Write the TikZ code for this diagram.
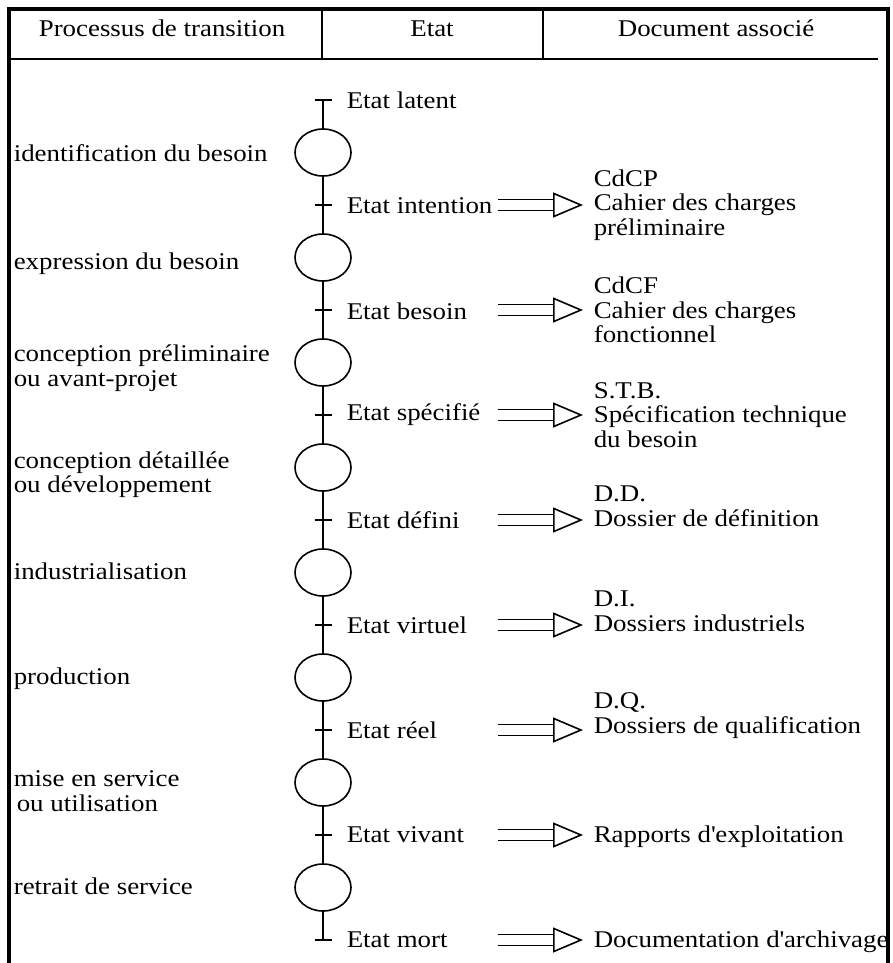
\documentclass[tikz,border=0pt]{standalone}
\usepackage{fontspec}
\setmainfont{Liberation Serif}[FakeStretch=1.12]
\usepackage{tikz}
\usetikzlibrary{shapes,arrows.meta,calc}

\tikzset{
    etape/.style={draw, ellipse, minimum width=28pt, minimum height=23.5pt, inner sep=0pt},
    proc/.style={anchor=west, inner sep=0pt, align=left},
    etat/.style={anchor=west, inner sep=0pt},
    doc/.style={anchor=west, inner sep=0pt, align=left},
    renvoi/.style={double, double distance=4.7pt, shorten >=5pt,
        -{Triangle[open, length=15pt, width=12.5pt, line width=0.8pt]}}
}

\begin{document}
\begin{tikzpicture}[x=0.5pt, y=-0.5pt, line width=0.8pt, font=\fontsize{12}{12.25}\selectfont]
    \useasboundingbox (0,0) rectangle (893,963);

    % Frame
    \draw[line width=2pt] (9,963) -- (9,9) -- (888,9) -- (888,963);
    \draw (9,59) -- (878,59);
    \draw[line width=0.6pt] (322,9) -- (322,59);
    \draw[line width=0.6pt] (543,9) -- (543,59);

    % Header
    \node[anchor=base] (h1) at (162,37) {Processus de transition};
    \node[anchor=base] (h2) at (432,37) {Etat};
    \node[anchor=base] (h3) at (716,37) {Document associé};

    % Transitions
    \node[etape] (e1) at (323,152.5) {};
    \node[etape] (e2) at (323,257.5) {};
    \node[etape] (e3) at (323,362.5) {};
    \node[etape] (e4) at (323,467.5) {};
    \node[etape] (e5) at (323,572.5) {};
    \node[etape] (e6) at (323,677.5) {};
    \node[etape] (e7) at (323,782.5) {};
    \node[etape] (e8) at (323,887.5) {};

    \node[proc] (p1) at (13,153) {identification du besoin};
    \node[proc] (p2) at (13,264) {expression du besoin};
    \node[proc] (p3) at (13,368) {conception préliminaire\\ou avant-projet};
    \node[proc] (p4) at (13,474.5) {conception détaillée\\ou développement};
    \node[proc] (p5) at (13,571) {industrialisation};
    \node[proc] (p6) at (13,679) {production};
    \node[proc] (p7) at (13,791) {mise en service\\\hspace{1.5pt}ou utilisation};
    \node[proc] (p8) at (13,886) {retrait de service};

    % States
    \coordinate (t0) at (323,100);
    \coordinate (t1) at (323,205);
    \coordinate (t2) at (323,310);
    \coordinate (t3) at (323,415);
    \coordinate (t4) at (323,520);
    \coordinate (t5) at (323,625);
    \coordinate (t6) at (323,730);
    \coordinate (t7) at (323,835);
    \coordinate (t8) at (323,940);

    \draw (t0) -- (e1) -- (t1) -- (e2) -- (t2) -- (e3) -- (t3) -- (e4) -- (t4)
        -- (e5) -- (t5) -- (e6) -- (t6) -- (e7) -- (t7) -- (e8) -- (t8);
    \foreach \i in {0,...,8}
        \draw ([xshift=-4.25pt]t\i) -- ([xshift=4.25pt]t\i);

    \node[etat] (s0) at (346,100) {Etat latent};
    \node[etat] (s1) at (346,206) {Etat intention};
    \node[etat] (s2) at (346,311) {Etat besoin};
    \node[etat] (s3) at (346,415) {Etat spécifié};
    \node[etat] (s4) at (346,520) {Etat défini};
    \node[etat] (s5) at (346,625) {Etat virtuel};
    \node[etat] (s6) at (346,730) {Etat réel};
    \node[etat] (s7) at (346,835) {Etat vivant};
    \node[etat] (s8) at (346,940) {Etat mort};

    % Documents
    \node[doc] (d1) at (593,205) {CdCP\\Cahier des charges\\préliminaire};
    \node[doc] (d2) at (593,310) {CdCF\\Cahier des charges\\fonctionnel};
    \node[doc] (d3) at (593,415) {S.T.B.\\Spécification technique\\du besoin};
    \node[doc] (d4) at (593,506.5) {D.D.\\Dossier de définition};
    \node[doc] (d5) at (593,611.5) {D.I.\\Dossiers industriels};
    \node[doc] (d6) at (593,715.5) {D.Q.\\Dossiers de qualification};
    \node[doc] (d7) at (593,837) {Rapports d\textquotesingle exploitation};
    \node[doc] (d8) at (593,942) {Documentation d\textquotesingle archivage};

    \coordinate (a1) at (498,205);
    \coordinate (a2) at (498,310);
    \coordinate (a3) at (498,415);
    \coordinate (a4) at (498,520);
    \coordinate (a5) at (498,625);
    \coordinate (a6) at (498,730);
    \coordinate (a7) at (498,835);
    \coordinate (a8) at (498,940);

    \foreach \i in {1,...,8}
        \draw[renvoi] (a\i) -- (a\i -| d\i.west);
\end{tikzpicture}
\end{document}
